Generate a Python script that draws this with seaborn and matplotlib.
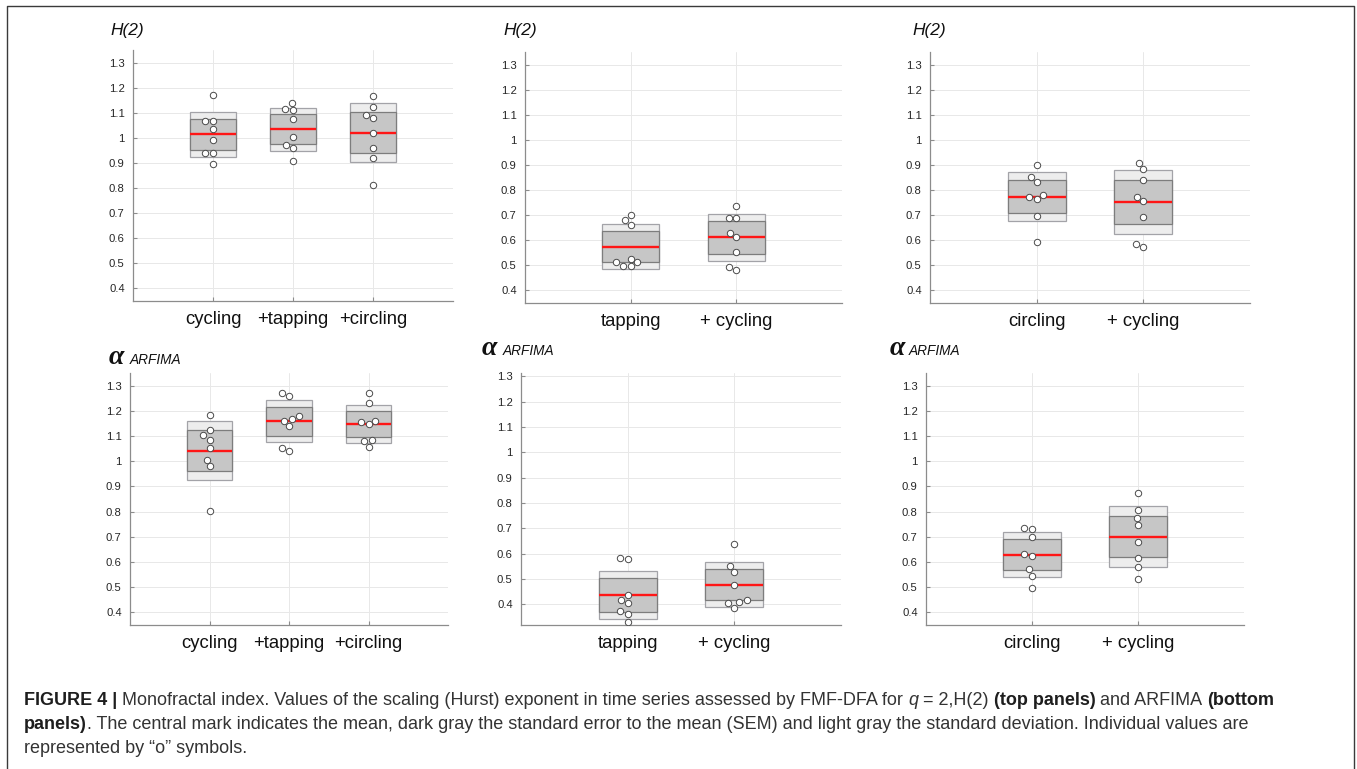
"""
Monofractal index figure: H(2) and alpha ARFIMA per condition,
mean (red), 95% CI of the mean (dark gray), SD (light gray), raw values.
"""

import numpy as np
import pandas as pd
import matplotlib
matplotlib.use("Agg")
import matplotlib.pyplot as plt
from matplotlib.lines import Line2D
import seaborn as sns

sns.set_style("whitegrid")
plt.rcParams["font.family"] = ["Liberation Sans", "DejaVu Sans"]

W, H = 1357, 769

# ---- data (8 subjects per condition) ----
H2_CYCLING = [1.171, 1.066, 1.066, 1.036, 0.992, 0.940, 0.940, 0.896]
H2_CYCLING_TAP = [1.139, 1.114, 1.110, 1.074, 1.003, 0.971, 0.960, 0.907]
H2_CYCLING_CIRC = [1.166, 1.123, 1.090, 1.081, 1.019, 0.959, 0.919, 0.813]
H2_TAPPING = [0.702, 0.682, 0.661, 0.527, 0.513, 0.513, 0.497, 0.497]
H2_TAPPING_CYC = [0.737, 0.689, 0.689, 0.629, 0.613, 0.555, 0.493, 0.483]
H2_CIRCLING = [0.899, 0.853, 0.834, 0.781, 0.773, 0.765, 0.695, 0.594]
H2_CIRCLING_CYC = [0.909, 0.884, 0.839, 0.772, 0.756, 0.691, 0.586, 0.573]

AR_CYCLING = [1.183, 1.124, 1.103, 1.086, 1.052, 1.006, 0.979, 0.804]
AR_CYCLING_TAP = [1.271, 1.260, 1.181, 1.167, 1.161, 1.138, 1.053, 1.040]
AR_CYCLING_CIRC = [1.270, 1.229, 1.161, 1.157, 1.147, 1.086, 1.080, 1.056]
AR_TAPPING = [0.583, 0.579, 0.436, 0.417, 0.405, 0.372, 0.362, 0.330]
AR_TAPPING_CYC = [0.637, 0.552, 0.528, 0.476, 0.417, 0.409, 0.406, 0.387]
AR_CIRCLING = [0.736, 0.731, 0.700, 0.630, 0.624, 0.573, 0.546, 0.498]
AR_CIRCLING_CYC = [0.875, 0.805, 0.776, 0.747, 0.679, 0.614, 0.581, 0.532]

LABELS_CYCLING = ["cycling", "+tapping", "+circling"]
LABELS_TAPPING = ["tapping", "+ cycling"]
LABELS_CIRCLING = ["circling", "+ cycling"]
Y_TICKS = [0.4, 0.5, 0.6, 0.7, 0.8, 0.9, 1.0, 1.1, 1.2, 1.3]

# panel layout: groups, labels, (left, top, right, bottom) px, ylim, box width
PANELS = [
    ([H2_CYCLING, H2_CYCLING_TAP, H2_CYCLING_CIRC], LABELS_CYCLING,
     (133, 50, 453, 301), (0.35, 1.35), 0.57),
    ([H2_TAPPING, H2_TAPPING_CYC], LABELS_TAPPING,
     (525, 52, 842, 303), (0.35, 1.35), 0.545),
    ([H2_CIRCLING, H2_CIRCLING_CYC], LABELS_CIRCLING,
     (930, 52, 1250, 303), (0.35, 1.35), 0.545),
    ([AR_CYCLING, AR_CYCLING_TAP, AR_CYCLING_CIRC], LABELS_CYCLING,
     (130, 373, 448, 625), (0.35, 1.35), 0.57),
    ([AR_TAPPING, AR_TAPPING_CYC], LABELS_TAPPING,
     (521, 373, 841, 625), (0.318, 1.313), 0.545),
    ([AR_CIRCLING, AR_CIRCLING_CYC], LABELS_CIRCLING,
     (926, 373, 1244, 625), (0.35, 1.35), 0.545),
]
H2_TITLE_POS = [(110, 30), (503, 30), (912, 30)]
ALPHA_TITLE_POS = [(109, 364, 130), (482, 355, 503), (890, 355, 909)]

fig = plt.figure(figsize=(W / 100, H / 100), dpi=100)


def fx(px):
    return px / W


def fy(py):
    return 1 - py / H


def draw_panel(ax, groups, labels, ylim, width):
    df = pd.DataFrame({
        "group": np.repeat(labels, [len(g) for g in groups]),
        "value": np.concatenate(groups),
    })
    stats = df.groupby("group", sort=False)["value"].agg(["mean", "std", "count"])
    stats = stats.loc[labels]
    ci = 1.96 * stats["std"] / np.sqrt(stats["count"])
    pos = np.arange(len(labels))

    # SD box, then CI-of-mean box, then mean line
    ax.bar(pos, 2 * stats["std"], bottom=stats["mean"] - stats["std"],
           width=width, color="#ededed", edgecolor="#a3a3a8", linewidth=0.9,
           zorder=2)
    ax.bar(pos, 2 * ci, bottom=stats["mean"] - ci, width=width,
           color="#c6c6c6", edgecolor="#7d7d7d", linewidth=0.9, zorder=2.5)
    ax.hlines(stats["mean"], pos - width / 2, pos + width / 2,
              color="#ff1616", linewidth=1.7, zorder=3)

    sns.swarmplot(data=df, x="group", y="value", order=labels, ax=ax,
                  size=4.6, color="white", edgecolor="#4a4a4a",
                  linewidth=0.7, zorder=4)

    ax.set_xlim(-1, len(labels))
    ax.set_ylim(*ylim)
    ax.set_yticks(Y_TICKS)
    ax.set_yticklabels([f"{t:g}" for t in Y_TICKS])
    ax.set_xlabel("")
    ax.set_ylabel("")
    ax.grid(True, color="#e8e8e8", linewidth=0.7)
    ax.xaxis.grid(True)
    ax.set_axisbelow(True)
    sns.despine(ax=ax)
    for side in ("left", "bottom"):
        ax.spines[side].set_color("#8c8c8c")
        ax.spines[side].set_linewidth(0.9)
    ax.tick_params(axis="y", labelsize=8.1, labelcolor="#262626",
                   direction="in", length=3, color="#8c8c8c", pad=6, left=True)
    ax.tick_params(axis="x", labelsize=13.3, labelcolor="#111111",
                   direction="in", length=3, color="#8c8c8c", pad=7.5, bottom=True)


for groups, labels, (l, t, r, b), ylim, width in PANELS:
    ax = fig.add_axes([fx(l), fy(b), fx(r - l), (b - t) / H])
    draw_panel(ax, groups, labels, ylim, width)

# panel titles
for x, y in H2_TITLE_POS:
    fig.text(fx(x), fy(y), "H(2)", fontsize=12.5, style="italic",
             va="center", ha="left", color="#111111")
for x, y, x2 in ALPHA_TITLE_POS:
    fig.text(fx(x), fy(y), "α", fontsize=20, style="italic",
             fontweight="bold",
             family=["Liberation Serif", "DejaVu Serif"],
             va="baseline", ha="left", color="#111111")
    fig.text(fx(x2), fy(y), "ARFIMA", fontsize=9.8, style="italic",
             va="baseline", ha="left", color="#111111")

# caption, built from chained pieces so that bold / italic runs can mix
CAP_SIZE = 13.0
CAP_GAP = 5  # px between words split across pieces
caption_lines = [
    [("FIGURE 4 |", "bold", "normal", False),
     ("Monofractal index. Values of the scaling (Hurst) exponent in time "
      "series assessed by FMF-DFA for", "normal", "normal", True),
     ("q", "normal", "italic", True),
     ("= 2,H(2)", "normal", "normal", True),
     ("(top panels)", "bold", "normal", True),
     ("and ARFIMA", "normal", "normal", True),
     ("(bottom", "bold", "normal", True)],
    [("panels)", "bold", "normal", False),
     (". The central mark indicates the mean, dark gray the standard error "
      "to the mean (SEM) and light gray the standard deviation. Individual "
      "values are", "normal", "normal", False)],
    [("represented by \u201co\u201d symbols.", "normal", "normal", False)],
]
caption_baselines = [705, 729, 753]

cap_ax = fig.add_axes([0, 0, 1, 1])
cap_ax.set_axis_off()
for pieces, base in zip(caption_lines, caption_baselines):
    prev = None
    for text, weight, style, gap in pieces:
        color = "#1e1e1e" if weight == "bold" else "#333333"
        if prev is None:
            prev = cap_ax.annotate(text, xy=(fx(24), fy(base)),
                                   xycoords="figure fraction",
                                   va="baseline", ha="left",
                                   fontsize=CAP_SIZE, fontweight=weight,
                                   fontstyle=style, color=color)
        else:
            prev = cap_ax.annotate(text, xy=(1, 0), xycoords=prev,
                                   xytext=(CAP_GAP if gap else 0, 0),
                                   textcoords="offset pixels",
                                   va="bottom", ha="left",
                                   fontsize=CAP_SIZE, fontweight=weight,
                                   fontstyle=style, color=color)

# thin frame around the figure (open at the bottom edge)
frame_x = [fx(7), fx(7), fx(1354), fx(1354)]
frame_y = [0, fy(6), fy(6), 0]
fig.add_artist(Line2D(frame_x, frame_y, transform=fig.transFigure,
                      color="#3a3a3a", linewidth=1.0))

fig.savefig("out.png", dpi=100)
